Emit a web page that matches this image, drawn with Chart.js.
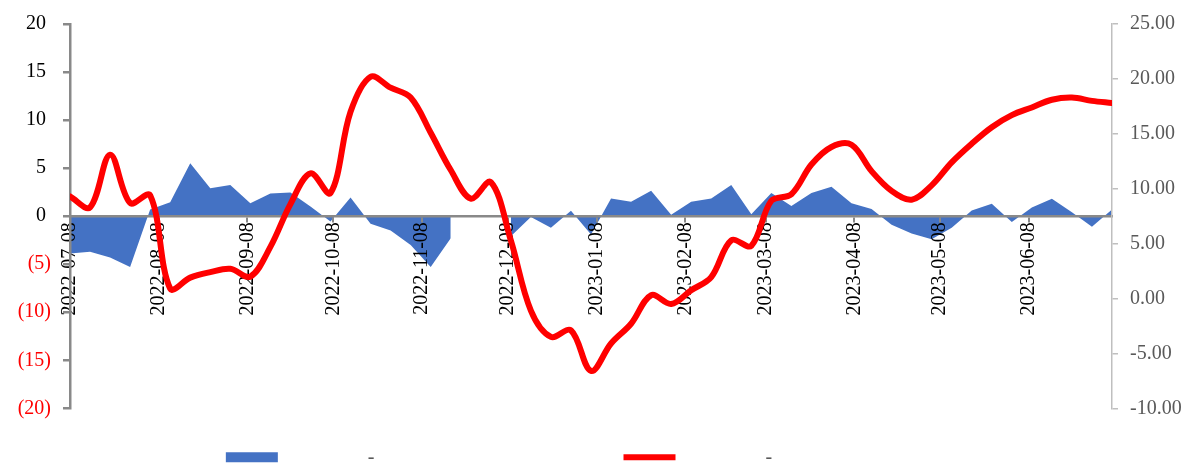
<!DOCTYPE html>
<html>
<head>
<meta charset="utf-8">
<script src="https://cdn.jsdelivr.net/npm/chart.js@4"></script>
<style>
html,body{margin:0;padding:0;background:#ffffff;}
#wrap{width:1203px;height:469px;position:relative;}
</style>
</head>
<body>
<div id="wrap"><canvas id="c"></canvas></div>
<script>
// ---- data (values hidden by the occluder are estimates) ----
const dates = [
  '2022-07-08','2022-07-15','2022-07-22','2022-07-29','2022-08-05','2022-08-12','2022-08-19','2022-08-26',
  '2022-09-02','2022-09-09','2022-09-16','2022-09-23','2022-09-30','2022-10-07','2022-10-14','2022-10-21',
  '2022-10-28','2022-11-04','2022-11-11','2022-11-18','2022-11-25','2022-12-02','2022-12-09','2022-12-16',
  '2022-12-23','2022-12-30','2023-01-06','2023-01-13','2023-01-20','2023-01-27','2023-02-03','2023-02-10',
  '2023-02-17','2023-02-24','2023-03-03','2023-03-10','2023-03-17','2023-03-24','2023-03-31','2023-04-07',
  '2023-04-14','2023-04-21','2023-04-28','2023-05-05','2023-05-12','2023-05-19','2023-05-26','2023-06-02',
  '2023-06-09','2023-06-16','2023-06-23','2023-06-30','2023-07-07'
];
const areaValues = [
  -3.9,-3.7,-4.3,-5.3, 0.7, 1.45, 5.5, 2.9,
  3.25, 1.35, 2.35, 2.45, 1.0,-0.55, 1.95,-0.8,
  -1.5,-3.0,-5.3,-2.3, null, null,-2.1,-0.1,
  -1.2, 0.55,-1.9, 1.85, 1.5, 2.65, 0.15, 1.5,
  1.85, 3.25, 0.2, 2.4, 1.05, 2.4, 3.05, 1.35,
  0.75,-0.9,-1.8,-2.4,-1.2, 0.6, 1.3,-0.6,
  0.9, 1.8, 0.4,-1.1, 0.7
];
const lineValues = [
  9.3, 8.3, 13.1, 8.7, 9.4, 0.9, 1.9, 2.4,
  2.7, 2.0, 4.7, 8.6, 11.4, 9.6, 17.0, 20.2,
  19.2, 18.3, 15.1, 11.7, 9.1, 10.6, 5.3, -1.1,
  -3.5, -2.9, -6.6, -4.1, -2.3, 0.3, -0.5, 0.75,
  1.95, 5.3, 4.8, 8.9, 9.5, 12.2, 13.8, 14.0,
  11.6, 9.8, 9.0, 10.3, 12.4, 14.1, 15.6, 16.7,
  17.4, 18.1, 18.3, 18.0, 17.8
];
const tickDates = [
  '2022-07-08','2022-08-08','2022-09-08','2022-10-08','2022-11-08','2022-12-08',
  '2023-01-08','2023-02-08','2023-03-08','2023-04-08','2023-05-08','2023-06-08'
];
const seriesLabels = ['-', '-'];
const leftTicks = { min: -20, max: 20, step: 5 };
const rightTicks = { min: -10, max: 25, step: 5 };

// ---- helpers ----
const DAY = 86400000;
const toDay = s => { const p = s.split('-').map(Number); return Date.UTC(p[0], p[1]-1, p[2]) / DAY; };
const day0 = toDay(dates[0]);
const xOf = s => toDay(s) - day0;
const tickX = tickDates.map(xOf);
const labelFor = v => { const i = tickX.indexOf(v); return i >= 0 ? tickDates[i] : ''; };

const areaData = dates.map((d, i) => ({ x: xOf(d), y: areaValues[i] }));
const lineData = dates.map((d, i) => ({ x: xOf(d), y: lineValues[i] }));

const FONT = '"Liberation Serif","Times New Roman",serif';
Chart.defaults.font.family = FONT;
Chart.defaults.font.size = 20;

const pad = (t, a, b) => ' '.repeat(a) + t + ' '.repeat(b);

new Chart(document.getElementById('c'), {
  type: 'line',
  data: {
    datasets: [
      {
        label: seriesLabels[1],
        data: lineData,
        yAxisID: 'y2',
        borderColor: '#FF0000',
        backgroundColor: '#FF0000',
        borderWidth: 6,
        borderCapStyle: 'round',
        borderJoinStyle: 'round',
        tension: 0.35,
        pointRadius: 0,
        pointStyle: 'line',
        fill: false
      },
      {
        label: seriesLabels[0],
        data: areaData,
        yAxisID: 'y',
        borderColor: '#4472C4',
        backgroundColor: '#4472C4',
        borderWidth: 0,
        tension: 0,
        pointRadius: 0,
        pointStyle: 'rect',
        spanGaps: false,
        fill: 'origin'
      }
    ]
  },
  options: {
    responsive: true,
    maintainAspectRatio: false,
    animation: false,
    devicePixelRatio: 1,
    layout: { padding: { top: 21.3, left: 0, right: 0, bottom: 0 } },
    plugins: {
      tooltip: { enabled: false },
      filler: { drawTime: 'beforeDraw' },
      legend: {
        position: 'bottom',
        maxHeight: 60.7,
        labels: {
          usePointStyle: true,
          pointStyleWidth: 52,
          boxHeight: 10,
          padding: 39,
          color: '#595959',
          font: { family: FONT, size: 20 },
          sort: (a, b) => b.datasetIndex - a.datasetIndex,
          generateLabels: chart => {
            const items = Chart.defaults.plugins.legend.labels.generateLabels(chart);
            items.forEach(it => {
              it.text = it.datasetIndex === 1 ? pad(it.text, 16, 42) : pad(it.text, 16, 41);
            });
            return items;
          }
        }
      }
    },
    scales: {
      x: {
        type: 'linear',
        position: { y: 0 },
        min: 0,
        max: xOf(dates[dates.length - 1]),
        afterFit: s => { s.height = 0; },
        afterBuildTicks: s => { s.ticks = tickX.map(v => ({ value: v })); },
        border: { display: true, color: '#898989', width: 2.5 },
        grid: { drawOnChartArea: false, drawTicks: true, tickLength: 5, color: '#898989', lineWidth: 2 },
        ticks: {
          autoSkip: false,
          minRotation: 90,
          maxRotation: 90,
          padding: 1,
          color: '#000000',
          font: { family: FONT, size: 20 },
          callback: v => labelFor(v)
        }
      },
      y: {
        position: 'left',
        min: leftTicks.min,
        max: leftTicks.max,
        afterFit: s => { s.width = 70; },
        border: { display: true, color: '#898989', width: 2.5 },
        grid: { drawOnChartArea: false, drawTicks: true, tickLength: 7, color: '#898989', lineWidth: 2.5 },
        ticks: {
          stepSize: leftTicks.step,
          padding: 12,
          font: { family: FONT, size: 20 },
          color: c => (c.tick && c.tick.value < 0) ? '#FF0000' : '#000000',
          callback: v => v < 0 ? '(' + Math.abs(v) + ')' : v + ' '
        }
      },
      y2: {
        position: 'right',
        min: rightTicks.min,
        max: rightTicks.max,
        afterFit: s => { s.width = 91; },
        border: { display: true, color: '#BFBFBF', width: 1.5 },
        grid: { drawOnChartArea: false, drawTicks: true, tickLength: 6, color: '#BFBFBF', lineWidth: 1.5 },
        ticks: {
          stepSize: rightTicks.step,
          padding: 12,
          color: '#595959',
          font: { family: FONT, size: 20 },
          callback: v => Number(v).toFixed(2)
        }
      }
    }
  }
});
</script>
</body>
</html>
